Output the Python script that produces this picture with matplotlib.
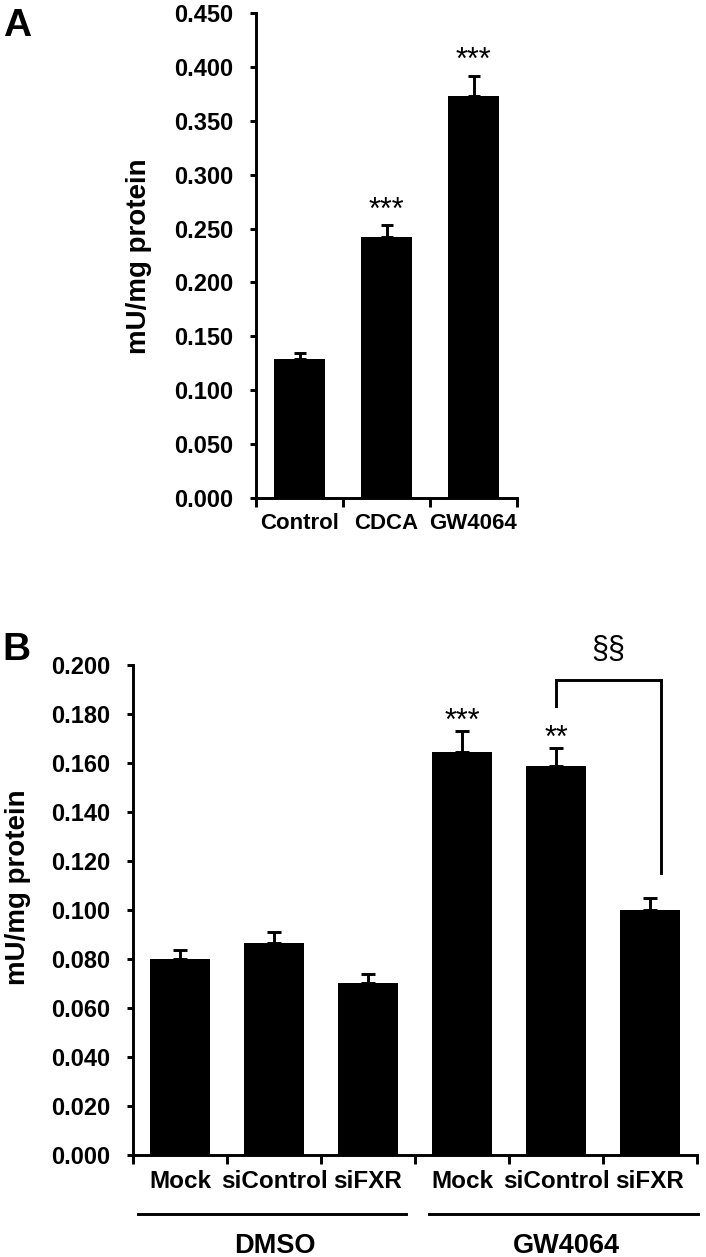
import matplotlib
matplotlib.use("Agg")
import matplotlib.pyplot as plt
import matplotlib.transforms as mtransforms
import numpy as np

plt.rcParams['font.family'] = ['Liberation Sans', 'DejaVu Sans']

# ---- Data ----
a_categories = ['Control', 'CDCA', 'GW4064']
a_values = [0.129, 0.242, 0.373]
a_errors = [0.006, 0.011, 0.019]
a_sig = ['', '***', '***']

b_categories = ['Mock', 'siControl', 'siFXR', 'Mock', 'siControl', 'siFXR']
b_values = [0.080, 0.0865, 0.0703, 0.1646, 0.1586, 0.0999]
b_errors = [0.0038, 0.0044, 0.0035, 0.0083, 0.0074, 0.0049]
b_sig = ['', '', '', '***', '**', '']
b_groups = ['DMSO', 'GW4064']

a_yticks = np.arange(0, 0.451, 0.05)
b_yticks = np.arange(0, 0.201, 0.02)

W, H = 706, 1257
fig = plt.figure(figsize=(W / 100, H / 100), dpi=100)

LW = 2.1
TICK_FS = 17
YLAB_FS = 20


def style_axes(ax, n, yticks, ymax):
    ax.set_xlim(-0.5, n - 0.5)
    ax.set_ylim(0, ymax)
    for s in ['top', 'right']:
        ax.spines[s].set_visible(False)
    for s in ['left', 'bottom']:
        ax.spines[s].set_linewidth(LW)
    ax.set_yticks(yticks)
    ax.set_yticklabels([f'{v:.3f}' for v in yticks], fontsize=TICK_FS, fontweight='bold')
    ax.tick_params(axis='y', direction='out', length=4, width=LW, pad=12.5)
    ax.set_xticks(np.arange(-0.5, n, 1.0))
    ax.set_xticklabels([])
    ax.tick_params(axis='x', which='major', direction='out', length=6.5, width=LW)
    ax.set_xticks(np.arange(n), minor=True)
    ax.tick_params(axis='x', which='minor', length=0, pad=11)


# ---- Panel A ----
axA = fig.add_axes([256 / W, 1 - 498 / H, (517 - 256) / W, 485 / H])
xa = np.arange(len(a_categories))
axA.bar(xa, a_values, width=0.58, color='black', zorder=2)
axA.errorbar(xa, a_values, yerr=[np.zeros(len(a_values)), a_errors], fmt='none',
             ecolor='black', elinewidth=LW, capsize=4.3, capthick=LW, zorder=1)
style_axes(axA, len(a_categories), a_yticks, 0.45)
axA.set_xticklabels(a_categories, minor=True, fontsize=16, fontweight='bold')
for xi, v, e, s in zip(xa, a_values, a_errors, a_sig):
    if s:
        axA.text(xi, v + e + 0.006, s, ha='center', va='baseline', fontsize=22, clip_on=False)
fig.text(139 / W, 1 - 256 / H, 'mU/mg protein', rotation=90, ha='center', va='center',
         fontsize=YLAB_FS, fontweight='bold')
fig.text(3 / W, 1 - 8 / H, 'A', ha='left', va='top', fontsize=28, fontweight='bold')

# ---- Panel B ----
axB = fig.add_axes([133 / W, 1 - 1155 / H, (697 - 133) / W, 490 / H])
xb = np.arange(len(b_categories))
axB.bar(xb, b_values, width=0.63, color='black', zorder=2)
axB.errorbar(xb, b_values, yerr=[np.zeros(len(b_values)), b_errors], fmt='none',
             ecolor='black', elinewidth=LW, capsize=4.8, capthick=LW, zorder=1)
style_axes(axB, len(b_categories), b_yticks, 0.2)
axB.set_xticklabels(b_categories, minor=True, fontsize=17.5, fontweight='bold')
for xi, v, e, s in zip(xb, b_values, b_errors, b_sig):
    if s:
        axB.text(xi, v + e + 0.0006, s, ha='center', va='baseline', fontsize=22, clip_on=False)

# bracket between GW4064 siControl and siFXR
axB.plot([4.0, 4.0, 5.12, 5.12], [0.1833, 0.1939, 0.1939, 0.115], color='black',
         lw=LW, clip_on=False, solid_joinstyle='miter')
axB.text(4.56, 0.2029, '§§', ha='center', va='baseline', fontsize=22, clip_on=False)

# group underlines and labels
trans = mtransforms.blended_transform_factory(axB.transData, axB.transAxes)
group_spans = [(-0.45, 2.40), (2.65, 5.51)]
for (x0, x1), g in zip(group_spans, b_groups):
    axB.plot([x0, x1], [-0.12, -0.12], color='black', lw=LW, transform=trans, clip_on=False)
    axB.text((x0 + x1) / 2 + 0.03, -0.185, g, ha='center', va='center', transform=trans,
             fontsize=19.5, fontweight='bold')

fig.text(18 / W, 1 - 887 / H, 'mU/mg protein', rotation=90, ha='center', va='center',
         fontsize=YLAB_FS, fontweight='bold')
fig.text(2 / W, 1 - 632 / H, 'B', ha='left', va='top', fontsize=28, fontweight='bold')

fig.savefig('out.png', dpi=100, facecolor='white')
